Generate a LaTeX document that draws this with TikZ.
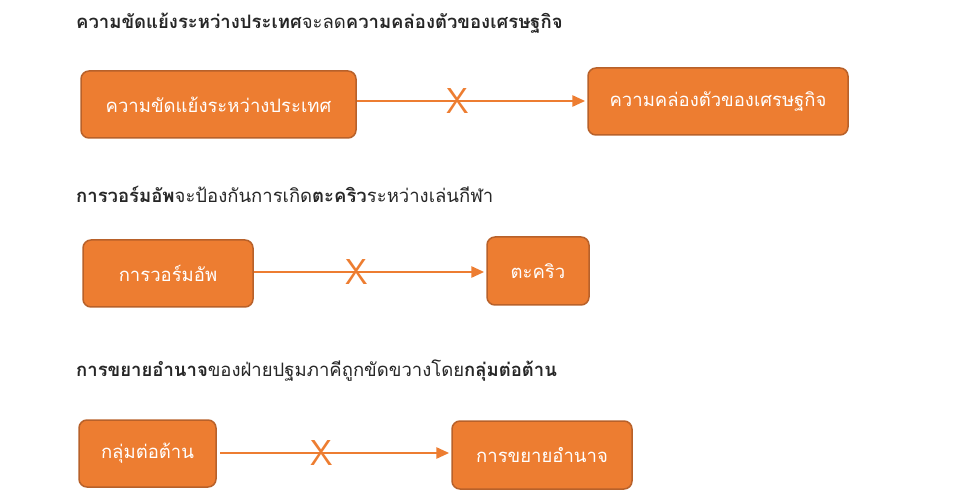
\documentclass[tikz,border=0pt]{standalone}
\usepackage{fontspec}
\newfontfamily\thaifont[Script=Thai]{Loma}
\usetikzlibrary{arrows.meta}
\definecolor{SapOrange}{HTML}{ED7D31}
\definecolor{SapRand}{HTML}{B8612A}
\definecolor{SapTekst}{HTML}{262626}
\tikzset{blok/.style={rectangle, rounded corners=8pt, draw=SapRand, line width=1.5pt, fill=SapOrange, text=white, font=\thaifont\fontsize{18.5}{22}\selectfont, inner sep=0pt}}
\tikzset{next/.style={-{Triangle[length=13pt, width=11pt]}, draw=SapOrange, line width=2.8pt, shorten >=2pt}}
\tikzset{kop/.style={anchor=base west, text=SapTekst, font=\thaifont\fontsize{18.5}{22}\selectfont, inner sep=0pt}}
\tikzset{kruis/.style={text=SapOrange, font=\fontsize{36}{36}\selectfont\sffamily, inner sep=0pt}}
\newcommand{\vet}[1]{\textbf{#1}}

\begin{document}
\begin{tikzpicture}[x=1pt, y=-1pt]
  \useasboundingbox (0,0) rectangle (975,494);

  % --- eerste rij ---
  \node[kop] (Kop1) at (76,29) {\vet{ความขัดแย้งระหว่างประเทศ}จะลด\vet{ความคล่องตัวของเศรษฐกิจ}};
  \node[blok, minimum width=275pt, minimum height=67pt] (Konflik) at (218.5,104.5) {ความขัดแย้งระหว่างประเทศ};
  \node[blok, minimum width=260pt, minimum height=67pt] (Ekonomie) at (718,101.5) {ความคล่องตัวของเศรษฐกิจ};
  \draw[next] (Konflik.east |- 0,101) coordinate (K1) -- (Ekonomie.west |- 0,101) coordinate (E1);
  \node[kruis] (X1) at (458,101) {X};

  % --- tweede rij ---
  \node[kop] (Kop2) at (76,203) {\vet{การวอร์มอัพ}จะป้องกันการเกิด\vet{ตะคริว}ระหว่างเล่นกีฬา};
  \node[blok, minimum width=170pt, minimum height=67pt] (Opwarm) at (168,273.5) {การวอร์มอัพ};
  \node[blok, minimum width=102pt, minimum height=68pt] (Kramp) at (538,271) {ตะคริว};
  \draw[next] (Opwarm.east |- 0,272) coordinate (O1) -- (Kramp.west |- 0,272) coordinate (R1);
  \node[kruis] (X2) at (357,272) {X};

  % --- derde rij ---
  \node[kop] (Kop3) at (76,377) {\vet{การขยายอำนาจ}ของฝ่ายปฐมภาคีถูกขัดขวางโดย\vet{กลุ่มต่อต้าน}};
  \node[blok, minimum width=137pt, minimum height=67pt] (Groep) at (147.5,453.5) {กลุ่มต่อต้าน};
  \node[blok, minimum width=180pt, minimum height=68pt] (Mag) at (542,455) {การขยายอำนาจ};
  \coordinate (G1) at (220,453);
  \draw[next] (G1) -- (Mag.west |- 0,453) coordinate (M1);
  \node[kruis] (X3) at (322,453) {X};
\end{tikzpicture}
\end{document}
